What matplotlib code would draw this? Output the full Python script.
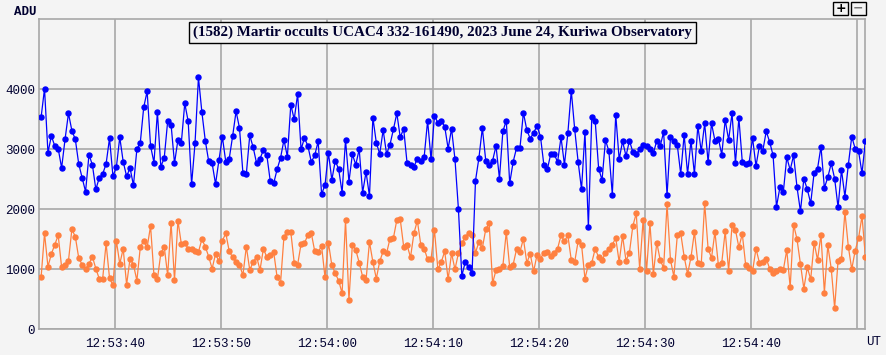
import numpy as np
import pandas as pd
import matplotlib
matplotlib.use('Agg')
import matplotlib.pyplot as plt
from matplotlib import dates as md
from matplotlib.patches import Rectangle

# target star + asteroid (blue) and comparison star (orange), ADU per frame
target_adu = [
    3533, 4011, 2944, 3222, 3056, 3011, 2689, 3167, 3600, 3311,
    3167, 2756, 2522, 2294, 2911, 2739, 2333, 2522, 2589, 2756,
    3183, 2556, 2700, 3200, 2794, 2550, 2689, 2400, 3000, 3111,
    3700, 3967, 3056, 2778, 3622, 2711, 2856, 3467, 3411, 2767,
    3156, 3111, 3767, 3467, 2417, 3100, 4200, 3622, 3144, 2800,
    2767, 2422, 2822, 3206, 2789, 2844, 3222, 3633, 3356, 2606,
    2589, 3233, 3033, 2767, 2844, 2989, 2900, 2467, 2433, 2667,
    2856, 3156, 2878, 3744, 3500, 3922, 3000, 3189, 3056, 2789,
    2900, 3133, 2256, 2400, 2944, 2489, 2811, 2667, 2278, 3156,
    2461, 2917, 2744, 3000, 2278, 2622, 2222, 3528, 3111, 2922,
    3322, 2922, 3078, 3333, 3600, 3200, 3344, 2767, 2733, 2711,
    2844, 2811, 2878, 3478, 2833, 3556, 3444, 3478,
    3378, 3011, 3344, 2833, 2011, 889, 1122, 1033, 944, 2478,
    2856, 3356, 2811, 2744, 2811, 3056, 2511, 3300, 3478, 2433,
    2789, 3022, 3022, 3611, 3322, 3178, 3278, 3389, 3211, 2733,
    2667, 2922, 2922, 2789, 3200, 2744, 3267, 3978, 3333,
    2794, 2333, 3289, 1700, 3544, 3467, 2678, 2489, 3156, 2967,
    2244, 3578, 2833, 3133, 2889, 3144, 2956, 2922, 3000, 3078,
    3056, 3000, 2933, 3144, 3056, 3289, 2233, 3200, 3133, 3067,
    2589, 3244, 2589, 3144, 2589, 3389, 2967, 3433,
    2789, 3433, 3144, 3178, 2911, 3489, 3156, 3600, 2767, 3522,
    2789, 2756, 2778, 3189, 2722, 3056, 2978, 3300, 3122, 2900,
    2044, 2367, 2289, 2867, 2656, 2900, 2367, 1967, 2511, 2333,
    2100, 2611, 2678, 3044, 2356, 2533, 2767, 2511, 2033, 2656,
    2211, 2744, 3211, 3011, 2967, 2600, 3144, 3433,
]

comp_adu = [
    867, 1600, 1044, 1256, 1411, 1567, 1033, 1078, 1144, 1667,
    1544, 1189, 1078, 1000, 1089, 1211, 1011, 844, 844, 1433,
    856, 733, 1478, 1089, 1344, 744, 1178, 1078, 811, 1367,
    1478, 1367, 1722, 900, 833, 1267, 1378, 900, 1778, 822,
    1811, 1422, 1444, 1344, 1333, 1300, 1289, 1500, 1378, 1211,
    1011, 1256, 1133, 1478, 1600, 1300, 1200, 1122, 1078, 900,
    1378, 989, 1122, 1211, 989, 1344, 1200, 1233, 1289, 867,
    767, 1544, 1622, 1622, 1111, 1078, 1422, 1433, 1578, 1600,
    1300, 1289, 1389, 867, 1444, 1067, 933, 811, 600, 1822,
    489, 1411, 1322, 1111, 878, 822, 1456, 1122, 844, 1133,
    1300, 1267, 1511, 1522, 1822, 1833, 1378, 1400, 1200, 1600,
    1811, 1411, 1344, 1167, 1167, 1656, 1000, 1122,
    1300, 833, 1267, 1000, 1267, 1433, 1533, 1611, 1578, 1278,
    1456, 1356, 1667, 1767, 767, 989, 1000, 1056, 1622, 1033,
    1078, 1333, 1289, 1511, 1111, 1256, 967, 1244, 1178, 1278,
    1289, 1222, 1278, 1344, 1567, 1467, 1567, 1156, 1122,
    1467, 1411, 844, 1078, 1111, 1344, 1200, 1156, 1267, 1344,
    1411, 1522, 1122, 1556, 1144, 1278, 1722, 1933, 1000, 1822,
    967, 1767, 922, 1444, 1156, 1022, 2089, 1156, 878, 1567,
    1600, 1211, 922, 1200, 1622, 1111, 1089, 2100,
    1344, 1189, 1622, 1078, 1111, 1633, 978, 1733, 1656, 1367,
    1589, 1067, 1022, 967, 1344, 1111, 1122, 1178, 1011, 933,
    978, 1011, 989, 1322, 700, 1744, 1500, 1089, 678, 1033,
    833, 1444, 1156, 1578, 611, 1400, 1011, 356, 1144, 1178,
    1956, 1378, 1000, 1311, 1522, 1889, 1200, 1511,
]

# frame timing (UT)
first_frame = '2023-06-24 12:53:33.00'
frame_step_s = 0.3227
ut_start = '2023-06-24 12:53:32.83'
ut_end = '2023-06-24 12:54:50.73'
last_label = '2023-06-24 12:54:45'
y_ticks = [0, 1000, 2000, 3000, 4000]
title = '(1582) Martir occults UCAC4 332-161490, 2023 June 24, Kuriwa Observatory'

BG = '#f4f4f4'
GRID = '#a8a8a8'
TXT = '#000030'

times = pd.Timestamp(first_frame) + pd.to_timedelta(np.arange(len(target_adu)) * frame_step_s, unit='s')
label_cut = md.date2num(pd.Timestamp(last_label))


def ut_label(x, pos=None):
    # the gridline at the right edge carries no label
    if x > label_cut:
        return ''
    return md.num2date(x).strftime('%H:%M:%S')


fig = plt.figure(figsize=(8.86, 3.55), dpi=100, facecolor=BG)
ax = fig.add_axes([39.3 / 886, 1 - 329.3 / 355, (865 - 39.3) / 886, (329.3 - 19.3) / 355])
ax.set_facecolor(BG)

ax.plot(times, comp_adu, color='#ff8040', lw=0.9, marker='o', ms=3.6, zorder=3)
ax.plot(times, target_adu, color='#0000ff', lw=0.9, marker='o', ms=3.6, zorder=4)

ax.set_xlim(pd.Timestamp(ut_start), pd.Timestamp(ut_end))
ax.set_ylim(0, 5167)
ax.set_yticks(y_ticks)
ax.xaxis.set_major_locator(md.SecondLocator(bysecond=[0, 10, 20, 30, 40, 50]))
ax.xaxis.set_major_formatter(plt.FuncFormatter(ut_label))
ax.grid(True, color=GRID, lw=1.2, zorder=1)
ax.set_axisbelow(True)
for s in ax.spines.values():
    s.set_color(GRID)
    s.set_linewidth(1.2)
ax.tick_params(length=0, labelsize=9, labelcolor=TXT)
ax.tick_params(axis='x', pad=6)
ax.tick_params(axis='y', pad=3)
for lab in ax.get_xticklabels() + ax.get_yticklabels():
    lab.set_fontfamily('Liberation Mono')

fig.text(25.5 / 886, 1 - 12 / 355, 'ADU', ha='center', va='center', fontsize=9,
         family='Liberation Mono', fontweight='bold', color=TXT)
fig.text(874 / 886, 1 - 342 / 355, 'UT', ha='center', va='center', fontsize=9,
         family='Liberation Mono', color=TXT)

fig.text(442.5 / 886, 1 - 32.5 / 355, title, ha='center', va='center', fontsize=10.8,
         family='Liberation Serif', fontweight='bold', color=TXT, zorder=10,
         bbox=dict(boxstyle='square,pad=0.28', fc=BG, ec='black', lw=1))

# zoom buttons
for x0, sym, col in [(833.3, '+', 'black'), (851, '\u2212', '#777777')]:
    fig.add_artist(Rectangle((x0 / 886, 1 - 14.7 / 355), 14.5 / 886, 12.4 / 355,
                             fill=False, ec='black', lw=1, transform=fig.transFigure))
    fig.text((x0 + 7.2) / 886, 1 - 8.5 / 355, sym, ha='center', va='center',
             fontsize=9, fontweight='bold', color=col)

fig.savefig('out.png', dpi=100, facecolor=BG)
